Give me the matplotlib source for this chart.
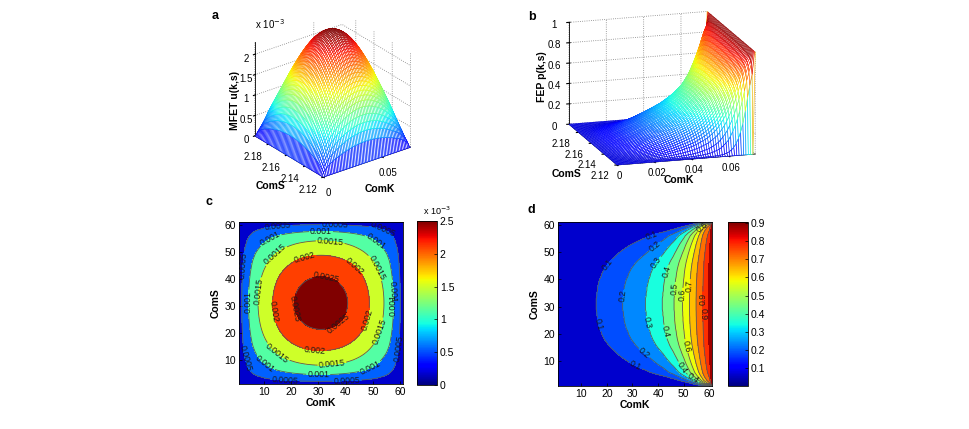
import numpy as np
import matplotlib
matplotlib.use('Agg')
import matplotlib.pyplot as plt
from matplotlib import colors, cm

plt.rcParams['font.family'] = ['Liberation Sans', 'DejaVu Sans']
plt.rcParams['font.size'] = 7
plt.rcParams['grid.linestyle'] = ':'
plt.rcParams['grid.color'] = '0.5'
plt.rcParams['grid.linewidth'] = 0.6
plt.rcParams['axes.linewidth'] = 0.6

# ---- data ----
n_grid = 61
com_k_range = (0.0, 0.074)
com_s_range = (2.12, 2.195)
com_s_ticks = [2.12, 2.14, 2.16, 2.18]

# MFET along one grid line through the middle (x 1e-3), same shape in k and s
mfet_profile = [0.000, 0.500, 0.740, 0.920, 1.090, 1.260, 1.395, 1.503, 1.607, 1.706,
                1.800, 1.890, 1.975, 2.055, 2.131, 2.203, 2.269, 2.331, 2.389, 2.442,
                2.490, 2.534, 2.573, 2.607, 2.637, 2.663, 2.683, 2.699, 2.711, 2.718,
                2.720,
                2.718, 2.711, 2.699, 2.683, 2.663, 2.637, 2.607, 2.573, 2.534, 2.490,
                2.442, 2.389, 2.331, 2.269, 2.203, 2.131, 2.055, 1.975, 1.890, 1.800,
                1.706, 1.607, 1.503, 1.395, 1.260, 1.090, 0.920, 0.740, 0.500, 0.000]
mfet_peak = 2.720
mfet_zlim = 2.3e-3

# FEP along ComK at the middle ComS row
fep_k_profile = [0.000, 0.006, 0.012, 0.018, 0.024, 0.030, 0.036, 0.043, 0.049, 0.056,
                 0.063, 0.070, 0.077, 0.085, 0.093, 0.101, 0.110, 0.118, 0.127, 0.136,
                 0.145, 0.155, 0.165, 0.176, 0.187, 0.198, 0.209, 0.220, 0.231, 0.242,
                 0.253, 0.265, 0.276, 0.288, 0.299, 0.312, 0.327, 0.342, 0.358, 0.374,
                 0.390, 0.406, 0.428, 0.450, 0.472, 0.494, 0.522, 0.553, 0.584, 0.616,
                 0.654, 0.692, 0.730, 0.769, 0.808, 0.846, 0.885, 0.920, 0.945, 0.965,
                 1.000]
# how fast FEP falls off towards the ComS edges (exponent per ComS row)
fep_s_exponent = [200, 7.00, 4.00, 3.00, 2.40, 2.05, 1.88, 1.74, 1.62, 1.53,
                  1.45, 1.38, 1.32, 1.27, 1.22, 1.18, 1.15, 1.12, 1.10, 1.08,
                  1.07, 1.05, 1.04, 1.03, 1.02, 1.02, 1.01, 1.01, 1.00, 1.00,
                  1.00,
                  1.00, 1.00, 1.01, 1.01, 1.02, 1.02, 1.03, 1.04, 1.05, 1.07,
                  1.08, 1.10, 1.12, 1.15, 1.18, 1.22, 1.27, 1.32, 1.38, 1.45,
                  1.53, 1.62, 1.74, 1.88, 2.05, 2.40, 3.00, 4.00, 7.00, 200]

u_levels = [0.0005, 0.001, 0.0015, 0.002, 0.0025]
p_levels = [0.1, 0.2, 0.3, 0.4, 0.5, 0.6, 0.7, 0.8, 0.9]

# contour label spots (ComK, ComS)
u_label_pos = [(15.4, 58.7), (36.0, 59.3), (53.2, 56.8), (12.3, 55), (31.0, 56.0), (50.1, 52.7),
               (34.3, 52.5), (14.2, 48.8), (25.1, 47.6), (43.4, 44.5), (33.1, 40.7), (50.8, 43.9),
               (3.2, 45), (5.6, 31.5), (9.3, 35.2), (14.2, 27.8), (20.9, 29), (36.7, 24.1),
               (56.3, 30.3), (58.7, 35.2), (46.5, 25.3), (50.8, 21), (58.7, 14.2), (28.8, 14),
               (15.4, 13), (10.5, 8.7), (34.9, 9.3), (30, 5.6), (48.9, 7.4), (17.8, 3.7),
               (40.4, 3.3), (3.8, 10.5)]
p_label_pos = [(37.5, 56), (20.2, 45.5), (16.1, 23.3), (31, 8.1), (39.4, 51.4), (27.5, 33.7),
               (35.3, 13.8), (40.5, 45.5), (36.2, 24.2), (49.8, 8.1), (43.7, 42.8), (42.8, 20.9),
               (46.6, 36.5), (50.1, 15.4), (49.8, 34.3), (53.3, 37.5), (56.5, 33.0), (59.3, 27.5),
               (53.7, 3.8), (57, 59.3)]

# ---- surfaces ----
idx = np.arange(1, n_grid + 1)
com_k = np.linspace(com_k_range[0], com_k_range[1], n_grid)
com_s = np.linspace(com_s_range[0], com_s_range[1], n_grid)
KK, SS = np.meshgrid(com_k, com_s)

mfet = np.array(mfet_profile) * 1e-3
U = np.outer(mfet, mfet) / (mfet_peak * 1e-3)
P = np.array(fep_k_profile)[None, :] ** np.array(fep_s_exponent)[:, None]

jet = plt.cm.jet
fig = plt.figure(figsize=(9.69, 4.29), dpi=100)


def draw_mesh(ax, Z, zmax):
    zc = (Z[:-1, :-1] + Z[1:, :-1] + Z[:-1, 1:] + Z[1:, 1:]) / 4
    fc = jet(0.08 + 0.92 * np.clip(zc / zmax, 0, 1))
    surf = ax.plot_surface(KK, SS, Z, rstride=1, cstride=1, facecolors=fc,
                           shade=False, linewidth=0.45)
    surf.set_facecolor((1, 1, 1, 1))
    ax.set_proj_type('ortho')
    for a in (ax.xaxis, ax.yaxis, ax.zaxis):
        a.set_pane_color((1, 1, 1, 0))
    ax.set_xlim(*com_k_range)
    ax.set_ylim(*com_s_range)
    ax.set_yticks(com_s_ticks, [f'{v:.2f}' for v in com_s_ticks], ha='right')
    ax.tick_params(labelsize=7, pad=-1)


# panel a
ax_a = fig.add_axes([0.2, 0.497, 0.28, 0.55], projection='3d')
draw_mesh(ax_a, U, U.max())
ax_a.set_zlim(0, mfet_zlim)
ax_a.view_init(elev=27, azim=-127)
ax_a.set_box_aspect((1, 1.04, 1.14 * mfet_zlim / U.max()), zoom=0.78)
ax_a.set_xticks([0, 0.05])
ax_a.set_xticklabels(['0', '0.05'])
ax_a.set_zticks([0, 0.0005, 0.001, 0.0015, 0.002])
ax_a.set_zticklabels(['0', '0.5', '1', '1.5', '2'])
ax_a.yaxis.set_tick_params(pad=-2)
ax_a.zaxis.set_tick_params(pad=-3)
fig.text(255 / 969, 1 - 24 / 429, r'x 10$^{-3}$', fontsize=7, va='center')
fig.text(235 / 969, 1 - 100 / 429, 'MFET u(k,s)', rotation=90, fontsize=7.5,
         fontweight='bold', ha='center', va='center')
fig.text(270 / 969, 1 - 186 / 429, 'ComS', fontsize=7.5, fontweight='bold', ha='center', va='center')
fig.text(380 / 969, 1 - 189 / 429, 'ComK', fontsize=7.5, fontweight='bold', ha='center', va='center')

# panel b
ax_b = fig.add_axes([0.53, 0.512, 0.30, 0.55], projection='3d')
draw_mesh(ax_b, P, 1.0)
ax_b.set_zlim(0, 1)
ax_b.view_init(elev=15, azim=-107)
ax_b.set_box_aspect((1, 1.14, 0.73))
ax_b.set_xticks([0, 0.02, 0.04, 0.06])
ax_b.set_xticklabels(['0', '0.02', '0.04', '0.06'])
ax_b.set_zticks([0, 0.2, 0.4, 0.6, 0.8, 1])
ax_b.set_zticklabels(['0', '0.2', '0.4', '0.6', '0.8', '1'])
ax_b.xaxis.set_tick_params(pad=-4)
ax_b.yaxis.set_tick_params(pad=-3)
fig.text(542 / 969, 1 - 77 / 429, 'FEP p(k,s)', rotation=90, fontsize=7.5,
         fontweight='bold', ha='center', va='center')
fig.text(566 / 969, 1 - 174 / 429, 'ComS', fontsize=7.5, fontweight='bold', ha='center', va='center')
fig.text(679 / 969, 1 - 180 / 429, 'ComK', fontsize=7.5, fontweight='bold', ha='center', va='center')


def draw_contour(ax, cax, Z, levels, fill_levels, band_fracs, vmin, vmax, cticks, cticklabels, label_pos):
    ax.contourf(idx, idx, Z, levels=fill_levels, colors=[jet(f) for f in band_fracs])
    cs = ax.contour(idx, idx, Z, levels=levels, colors='0.35', linewidths=0.6)
    ax.clabel(cs, manual=label_pos, fmt=lambda v: f'{v:g}', fontsize=6.3, colors='0.1',
              inline=True, inline_spacing=1)
    ax.set_xlim(1, 61)
    ax.set_ylim(1, 61)
    ax.set_xticks(range(10, 61, 10))
    ax.set_yticks(range(10, 61, 10))
    ax.tick_params(direction='in', length=2.5, labelsize=7.5, width=0.5, pad=2)
    ax.set_xlabel('ComK', fontsize=7.5, fontweight='bold', labelpad=1)
    ax.set_ylabel('ComS', fontsize=7.5, fontweight='bold', labelpad=3)
    sm = cm.ScalarMappable(norm=colors.Normalize(vmin, vmax), cmap=jet)
    cb = fig.colorbar(sm, cax=cax)
    cb.set_ticks(cticks)
    cb.set_ticklabels(cticklabels)
    cb.outline.set_linewidth(0.6)
    cax.tick_params(direction='in', length=2.5, labelsize=7.5, width=0.5, pad=2)


# panel c
ax_c = fig.add_axes([239 / 969, 45 / 429, 164 / 969, 162 / 429])
cax_c = fig.add_axes([417 / 969, 44 / 429, 20 / 969, 164 / 429])
draw_contour(ax_c, cax_c, U, u_levels, [0] + u_levels + [U.max() + 1e-6],
             [0.07, 0.22, 0.45, 0.6, 0.84, 1.0], 0, 0.0025,
             [0, 0.0005, 0.001, 0.0015, 0.002, 0.0025], ['0', '0.5', '1', '1.5', '2', '2.5'],
             u_label_pos)
fig.text(437 / 969, 1 - 211 / 429, r'x 10$^{-3}$', fontsize=6.5, va='center', ha='center')

# panel d
ax_d = fig.add_axes([558 / 969, 43 / 429, 154 / 969, 164 / 429])
cax_d = fig.add_axes([728 / 969, 43 / 429, 20 / 969, 164 / 429])
draw_contour(ax_d, cax_d, P, p_levels, [0] + p_levels + [0.955, 1.001],
             [0.07, 0.2, 0.26, 0.38, 0.48, 0.56, 0.64, 0.71, 0.79, 0.86, 0.97], 0.003, 0.905,
             p_levels, [f'{v:g}' for v in p_levels], p_label_pos)

for letter, x, y in [('a', 215, 16), ('b', 532, 17), ('c', 209, 202), ('d', 531, 210)]:
    fig.text(x / 969, 1 - y / 429, letter, fontsize=9, fontweight='bold', ha='center', va='center')

fig.savefig('out.png', dpi=100)
